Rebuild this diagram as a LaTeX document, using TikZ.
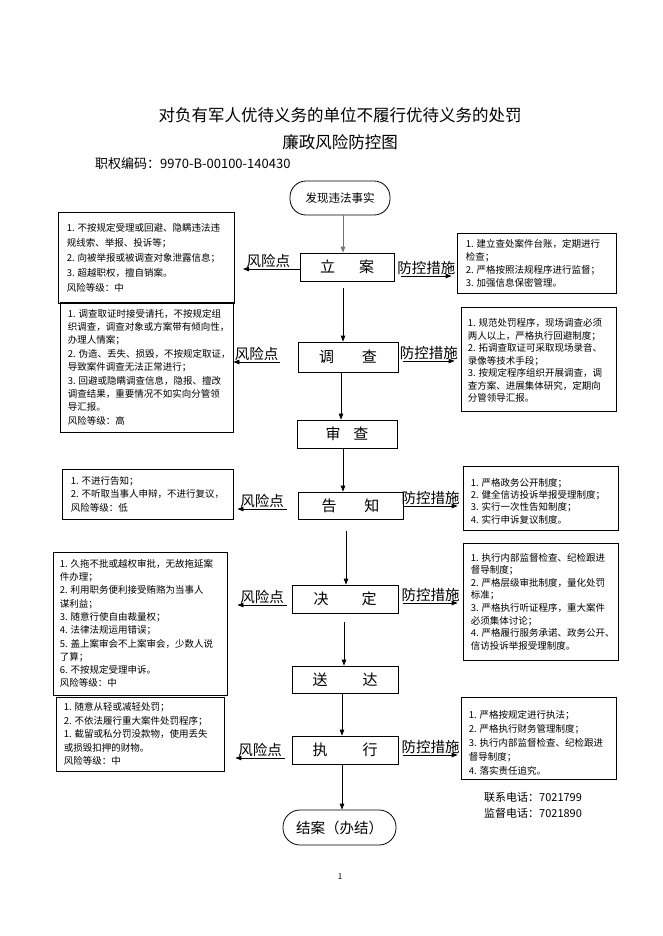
\documentclass[tikz,border=0pt]{standalone}
\usepackage{fontspec}
\setmainfont{Noto Sans CJK SC}
\usetikzlibrary{arrows.meta,calc}
\begin{document}
\begin{tikzpicture}[x=1pt,y=-1pt,
  arr/.style={-{Triangle[length=6pt,width=4.5pt]}, line width=0.8pt},
  pbox/.style={draw, line width=0.8pt, inner sep=0pt, font=\fontsize{15}{18}\selectfont},
  stad/.style={draw, line width=0.8pt, inner sep=0pt, rounded corners=16pt},
  tbox/.style={draw, line width=0.8pt, inner sep=0pt},
  ttext/.style={anchor=west, align=left, inner sep=0pt},
  lab/.style={anchor=south, inner sep=1pt, font=\fontsize{14.5}{16}\selectfont}]
\useasboundingbox (0,0) rectangle (662,936);
\fill[white] (0,0) rectangle (662,936);

% titles
\node[font=\fontsize{16.5}{20}\selectfont] (t1) at (340,115) {对负有军人优待义务的单位不履行优待义务的处罚};
\node[font=\fontsize{16.5}{20}\selectfont] (t2) at (340,142) {廉政风险防控图};
\node[anchor=west, inner sep=0pt, font=\fontsize{13}{15}\selectfont] (code) at (95,164) {职权编码：9970-B-00100-140430};

% main flow
\node[stad, minimum width=100, minimum height=34, font=\fontsize{11.5}{14}\selectfont] (st) at (340,198) {发现违法事实};
\node[pbox, minimum width=94, minimum height=28] (la) at (347,267) {立\hspace{24pt}案};
\node[pbox, minimum width=100, minimum height=30] (dc) at (348,357) {调\hspace{28pt}查};
\node[pbox, minimum width=100, minimum height=28] (sc) at (347,434) {审\hspace{13pt}查};
\node[pbox, minimum width=105, minimum height=27] (gz) at (350.5,505.5) {告\hspace{28pt}知};
\node[pbox, minimum width=106, minimum height=28] (jd) at (345,599) {决\hspace{33pt}定};
\node[pbox, minimum width=106, minimum height=27] (sd) at (345,679.5) {送\hspace{35pt}达};
\node[pbox, minimum width=106, minimum height=28] (zx) at (345,750) {执\hspace{35pt}行};
\node[stad, minimum width=113, minimum height=35, rounded corners=17pt, font=\fontsize{14.5}{17}\selectfont] (en) at (339.5,827.5) {结案（办结）};

\draw[arr, draw=black!55] (st.south -| 343,0) -- (la.north -| 343,0);
\draw[arr] ($(la.south -| 343,0)+(0,7)$) -- (dc.north -| 343,0);
\draw[arr] (dc.south -| 341,0) -- (sc.north -| 341,0);
\draw[arr] (sc.south -| 343,0) -- (gz.north -| 343,0);
\draw[arr] ($(gz.south -| 346,0)+(0,12)$) -- (jd.north -| 346,0);
\draw[arr] ($(jd.south -| 344,0)+(0,9)$) -- (sd.north -| 344,0);
\draw[arr] (sd.south -| 342,0) -- (zx.north -| 342,0);
\draw[arr] (zx.south -| 342,0) -- (en.north -| 342,0);

% left risk boxes
\node[tbox, minimum width=176, minimum height=91] (L1) at (146,257.5) {};
\node[ttext, font=\fontsize{9.5}{15}\selectfont] (L1t) at ([xshift=9pt]L1.west) {1. 不按规定受理或回避、隐瞒违法违\\规线索、举报、投诉等；\\2. 向被举报或被调查对象泄露信息；\\3. 超越职权，擅自销案。\\风险等级：中};

\node[tbox, minimum width=173, minimum height=130] (L2) at (146.5,367) {};
\node[ttext, font=\fontsize{9.5}{13.4}\selectfont] (L2t) at ([xshift=8pt]L2.west) {1. 调查取证时接受请托，不按规定组\\织调查，调查对象或方案带有倾向性，\\办理人情案；\\2. 伪造、丢失、损毁，不按规定取证，\\导致案件调查无法正常进行；\\3. 回避或隐瞒调查信息，隐报、擅改\\调查结果，重要情况不如实向分管领\\导汇报。\\风险等级：高};

\node[tbox, minimum width=171, minimum height=50] (L3) at (147.5,494) {};
\node[ttext, font=\fontsize{9.5}{13.5}\selectfont] (L3t) at ([xshift=9pt]L3.west) {1. 不进行告知；\\2. 不听取当事人申辩，不进行复议，\\风险等级：低};

\node[tbox, minimum width=174, minimum height=143] (L4) at (140,623.5) {};
\node[ttext, font=\fontsize{9.5}{13.3}\selectfont] (L4t) at ([xshift=7pt]L4.west) {1. 久拖不批或越权审批，无故拖延案\\件办理；\\2. 利用职务便利接受贿赂为当事人\\谋利益；\\3. 随意行使自由裁量权；\\4. 法律法规运用错误；\\5. 盖上案审会不上案审会，少数人说\\了算；\\6. 不按规定受理申诉。\\风险等级：中};

\node[tbox, minimum width=168, minimum height=74] (L5) at (140,734) {};
\node[ttext, font=\fontsize{9.5}{13.5}\selectfont] (L5t) at ([xshift=8pt]L5.west) {1. 随意从轻或减轻处罚；\\2. 不依法履行重大案件处罚程序；\\1. 截留或私分罚没款物，使用丢失\\或损毁扣押的财物。\\风险等级：中};

% right control boxes
\node[tbox, minimum width=159, minimum height=60] (R1) at (536.5,263) {};
\node[ttext, font=\fontsize{9.5}{13}\selectfont] (R1t) at ([xshift=9pt]R1.west) {1. 建立查处案件台账，定期进行\\检查；\\2. 严格按照法规程序进行监督；\\3. 加强信息保密管理。};

\node[tbox, minimum width=155, minimum height=104] (R2) at (538.5,359) {};
\node[ttext, font=\fontsize{9.5}{12.5}\selectfont] (R2t) at ([xshift=7pt,yshift=-1.5pt]R2.west) {1. 规范处罚程序，现场调查必须\\两人以上，严格执行回避制度；\\2. 拓调查取证可采取现场录音、\\录像等技术手段；\\3. 按规定程序组织开展调查，调\\查方案、进展集体研究，定期向\\分管领导汇报。};

\node[tbox, minimum width=155, minimum height=64] (R3) at (540.5,498) {};
\node[ttext, font=\fontsize{9.5}{12.4}\selectfont] (R3t) at ([xshift=8pt,yshift=-3pt]R3.west) {1. 严格政务公开制度；\\2. 健全信访投诉举报受理制度；\\3. 实行一次性告知制度；\\4. 实行申诉复议制度。};

\node[tbox, minimum width=155, minimum height=117] (R4) at (540.5,601.5) {};
\node[ttext, font=\fontsize{9.5}{12.6}\selectfont] (R4t) at ([xshift=8pt]R4.west) {1. 执行内部监督检查、纪检跟进\\督导制度；\\2. 严格层级审批制度，量化处罚\\标准；\\3. 严格执行听证程序，重大案件\\必须集体讨论；\\4. 严格履行服务承诺、政务公开、\\信访投诉举报受理制度。};

\node[tbox, minimum width=155, minimum height=82] (R5) at (538.5,738) {};
\node[ttext, font=\fontsize{9.5}{14}\selectfont] (R5t) at ([xshift=8pt,yshift=-4.5pt]R5.west) {1. 严格按规定进行执法；\\2. 严格执行财务管理制度；\\3. 执行内部监督检查、纪检跟进\\督导制度；\\4. 落实责任追究。};

% risk arrows (left)
\coordinate (a1) at (243,269);
\coordinate (a2s) at (280,362);
\coordinate (a3s) at (287,509);
\coordinate (a4s) at (287,605);
\coordinate (a5s) at (285,758);
\draw[arr] (la.west |- a1) -- node[lab, pos=0.55] (k1) {风险点} (a1);
\draw[arr] (a2s) -- node[lab] (k2) {风险点} (L2.east |- a2s);
\draw[arr] (a3s) -- node[lab] (k3) {风险点} ($(L3.east |- a3s)+(4,0)$);
\draw[arr] (a4s) -- node[lab] (k4) {风险点} ($(L4.east |- a4s)+(10,0)$);
\draw[arr] (a5s) -- node[lab] (k5) {风险点} ($(L5.east |- a5s)+(11,0)$);

% control arrows (right)
\coordinate (b1s) at (401,276);
\coordinate (b2s) at (403,361);
\draw[arr] (b1s) -- node[lab] (m1) {防控措施} ($(R1.west |- b1s)+(-5,0)$);
\draw[arr] (b2s) -- node[lab] (m2) {防控措施} ($(R2.west |- b2s)+(-6,0)$);
\draw[arr] ($(gz.east)+(0,0.5)$) -- node[lab] (m3) {防控措施} ($(R3.west |- 0,506)+(-5,0)$);
\draw[arr] ($(jd.east |- 0,603)+(5,0)$) -- node[lab] (m4) {防控措施} ($(R4.west |- 0,603)+(-5,0)$);
\draw[arr] ($(zx.east |- 0,755)+(5,0)$) -- node[lab] (m5) {防控措施} ($(R5.west |- 0,755)+(-3,0)$);

% contacts
\node[anchor=west, inner sep=0pt, font=\fontsize{11}{13}\selectfont] (c1) at (484,797) {联系电话：7021799};
\node[anchor=west, inner sep=0pt, font=\fontsize{11}{13}\selectfont] (c2) at (484,813) {监督电话：7021890};

\node[font=\fontsize{8}{10}\selectfont] (pg) at (340,877) {1};
\end{tikzpicture}
\end{document}
